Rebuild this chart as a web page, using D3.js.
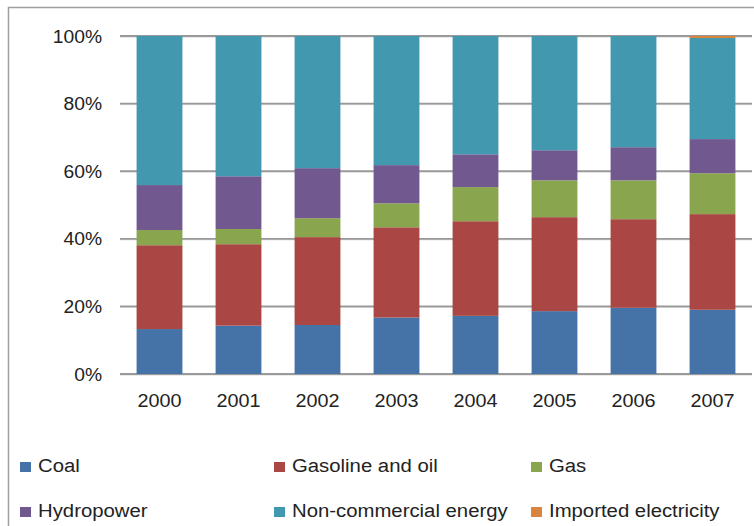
<!DOCTYPE html>
<html><head><meta charset="utf-8">
<script src="https://cdn.jsdelivr.net/npm/d3@7"></script>
<style>body{margin:0;background:#fff;} svg{display:block;font-family:"Liberation Sans",Arial,sans-serif;}</style>
</head><body>
<svg id="c" width="754" height="526"></svg>
<script>
const years = ["2000","2001","2002","2003","2004","2005","2006","2007"];
const seriesNames = ["Coal","Gasoline and oil","Gas","Hydropower","Non-commercial energy","Imported electricity"];
const coal = [13.3,14.3,14.5,16.7,17.2,18.6,19.6,19.0];
const gasoline = [24.8,24.1,26.0,26.7,28.0,27.8,26.2,28.3];
const gas = [4.5,4.5,5.6,7.1,10.1,10.9,11.5,12.1];
const hydro = [13.3,15.6,14.8,11.3,9.7,8.9,9.8,10.1];
const noncommercial = [44.1,41.5,39.1,38.2,35.0,33.8,32.9,29.9];
const imported = [0,0,0,0,0,0,0,0.6];
const yTicks = [0,20,40,60,80,100];
const colors = ["#4572A7","#AA4643","#89A54E","#71588F","#4198AF","#DB843D"];

const seriesVals = [coal,gasoline,gas,hydro,noncommercial,imported];
const rows = years.map((y,i)=>{const o={year:y}; seriesNames.forEach((s,k)=>o[s]=seriesVals[k][i]); return o;});
const stack = d3.stack().keys(seriesNames).offset(d3.stackOffsetExpand)(rows);

const svg = d3.select("#c");
svg.append("rect").attr("x",8.5).attr("y",7.5).attr("width",800).attr("height",600)
  .attr("fill","none").attr("stroke","#a0a0a0").attr("stroke-width",1.5);

const x = d3.scaleBand().domain(years).range([120,752]).paddingInner(0.42).paddingOuter(0.21);
const y = d3.scaleLinear().domain([0,1]).range([374,36]);

// gridlines
svg.append("g").selectAll("line").data(yTicks).join("line")
  .attr("x1",120).attr("x2",752).attr("y1",d=>y(d/100)+1).attr("y2",d=>y(d/100)+1)
  .attr("stroke","#d8d8d8").attr("stroke-width",1);
svg.append("g").selectAll("line").data(yTicks).join("line")
  .attr("x1",120).attr("x2",752).attr("y1",d=>y(d/100)).attr("y2",d=>y(d/100))
  .attr("stroke","#999").attr("stroke-width",1.8);

// y labels
const fmt = d => d + "%";
svg.append("g").selectAll("text").data(yTicks).join("text")
  .attr("transform",d=>`translate(102,${y(d/100)+6.5}) scale(1.07,1)`)
  .attr("text-anchor","end").attr("font-size",18).attr("fill","#222").text(fmt);

// bars
svg.append("g").selectAll("g").data(stack).join("g").attr("fill",(d,i)=>colors[i])
  .selectAll("rect").data(d=>d).join("rect")
  .attr("x",d=>x(d.data.year)).attr("width",x.bandwidth())
  .attr("y",d=>y(d[1])).attr("height",d=>Math.max(0,y(d[0])-y(d[1])));

// x labels
svg.append("g").selectAll("text").data(years).join("text")
  .attr("transform",d=>`translate(${x(d)+x.bandwidth()/2},407) scale(1.1,1)`)
  .attr("text-anchor","middle").attr("font-size",18).attr("fill","#222").text(d=>d);

// legend
const legPos = [[20,472],[274,472],[531,472],[20,517],[274,517],[531,517]];
const lg = svg.append("g").selectAll("g").data(seriesNames).join("g")
  .attr("transform",(d,i)=>`translate(${legPos[i][0]},${legPos[i][1]})`);
lg.append("rect").attr("x",0).attr("y",-10).attr("width",11).attr("height",10).attr("fill",(d,i)=>colors[i]);
lg.append("text").attr("transform","translate(18,0) scale(1.13,1)").attr("font-size",18).attr("fill","#222").text(d=>d);
</script>
</body></html>
